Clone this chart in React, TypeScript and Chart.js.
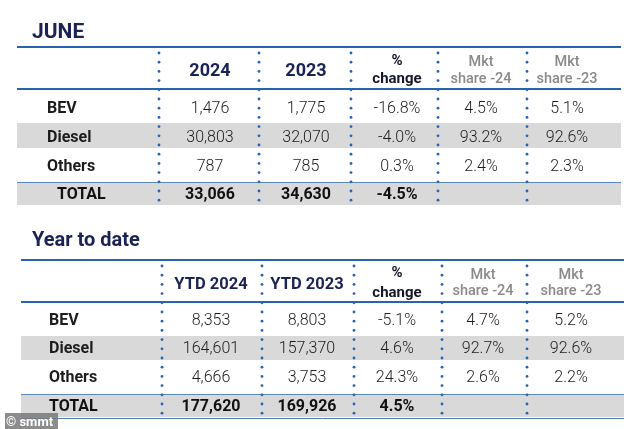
import React, { useEffect, useRef } from "react";
import { Chart, registerables } from "chart.js";

Chart.register(...registerables);

// ---------- DATA ----------
const rowLabels = ["BEV", "Diesel", "Others"];
const totalLabel = "TOTAL";

const juneTitle = "JUNE";
const juneHeaders = [["2024"], ["2023"], ["%", "change"], ["Mkt", "share -24"], ["Mkt", "share -23"]];
const june2024 = [1476, 30803, 787];
const june2023 = [1775, 32070, 785];
const juneChange = [-16.8, -4.0, 0.3];
const juneShare24 = [4.5, 93.2, 2.4];
const juneShare23 = [5.1, 92.6, 2.3];
const juneTotals = [33066, 34630];
const juneTotalChange = -4.5;

const ytdTitle = "Year to date";
const ytdHeaders = [["YTD 2024"], ["YTD 2023"], ["%", "change"], ["Mkt", "share -24"], ["Mkt", "share -23"]];
const ytd2024 = [8353, 164601, 4666];
const ytd2023 = [8803, 157370, 3753];
const ytdChange = [-5.1, 4.6, 24.3];
const ytdShare24 = [4.7, 92.7, 2.6];
const ytdShare23 = [5.2, 92.6, 2.2];
const ytdTotals = [177620, 169926];
const ytdTotalChange = 4.5;

const watermark = "© smmt";

// ---------- LAYOUT / STYLE ----------
const W = 634;
const H = 429;
const FONT = "Roboto, 'DejaVu Sans', sans-serif";
const NAVY = "#1b2254";
const BLUE = "#2a62b2";
const GRAY_BAND = "#d9d9d9";
const GRAY_TEXT = "#8a8a8a";
const TEXT = "#1c1c1c";

type Layout = {
  titleBase: number; titleSize: number;
  left: number; right: number;
  topLine: number; headLine: number; totalLine: number; bottom: number; bottomLine: boolean;
  bands: number[][];
  seps: number[]; dotTop: number; dotBottom: number;
  colX: number[];
  labelX: number; totalLabelX: number;
  headSize: number; headBase: number;
  twoBase: number[]; mktBase: number[];
  rowBase: number[];
};

const juneLayout: Layout = {
  titleBase: 38, titleSize: 21,
  left: 17, right: 621,
  topLine: 47, headLine: 89, totalLine: 182, bottom: 205, bottomLine: false,
  bands: [[123, 148], [182, 205]],
  seps: [159, 259, 351, 438, 527], dotTop: 53, dotBottom: 203,
  colX: [210, 306, 397, 481, 567],
  labelX: 47, totalLabelX: 57,
  headSize: 18, headBase: 76,
  twoBase: [65, 83], mktBase: [66, 83],
  rowBase: [113, 142, 170.5, 199],
};

const ytdLayout: Layout = {
  titleBase: 246, titleSize: 20,
  left: 21, right: 624,
  topLine: 260, headLine: 302, totalLine: 394, bottom: 418, bottomLine: true,
  bands: [[336, 360], [394, 417]],
  seps: [162, 262, 354, 442, 527], dotTop: 266, dotBottom: 416,
  colX: [211, 307, 397, 483, 571],
  labelX: 49, totalLabelX: 49,
  headSize: 16.5, headBase: 289,
  twoBase: [277, 297], mktBase: [279, 295],
  rowBase: [325, 353, 382, 411],
};

const fmtN = (v: number) => v.toLocaleString("en-US");
const fmtP = (v: number) => `${v.toFixed(1)}%`;

function drawTable(
  ctx: CanvasRenderingContext2D,
  px: (v: number) => number,
  py: (v: number) => number,
  L: Layout,
  title: string,
  headers: string[][],
  a: number[], b: number[], ch: number[], s24: number[], s23: number[],
  totals: number[], totalCh: number
) {
  // title
  ctx.fillStyle = NAVY;
  ctx.font = `700 ${L.titleSize}px ${FONT}`;
  ctx.textAlign = "left";
  ctx.textBaseline = "alphabetic";
  ctx.fillText(title, px(32), py(L.titleBase));

  // bands
  ctx.fillStyle = GRAY_BAND;
  L.bands.forEach(([t, bt]) => {
    ctx.fillRect(px(L.left), py(t), px(L.right) - px(L.left), py(bt) - py(t));
  });

  // lines
  ctx.strokeStyle = BLUE;
  ctx.lineWidth = 2;
  [L.topLine, L.headLine].forEach((y) => {
    ctx.beginPath();
    ctx.moveTo(px(L.left), py(y));
    ctx.lineTo(px(L.right), py(y));
    ctx.stroke();
  });
  ctx.strokeStyle = "#5d86b9";
  ctx.lineWidth = 1;
  ctx.beginPath();
  ctx.moveTo(px(L.left), py(L.totalLine) + 0.5);
  ctx.lineTo(px(L.right), py(L.totalLine) + 0.5);
  ctx.stroke();
  if (L.bottomLine) {
    ctx.strokeStyle = "#4f7cb6";
    ctx.beginPath();
    ctx.moveTo(px(L.left), py(L.bottom) + 0.5);
    ctx.lineTo(px(L.right), py(L.bottom) + 0.5);
    ctx.stroke();
  }

  // dotted separators
  ctx.fillStyle = "#2a62b2";
  L.seps.forEach((x) => {
    for (let y = L.dotTop; y <= L.dotBottom; y += 9.2) {
      ctx.beginPath();
      ctx.arc(px(x), py(y), 1.4, 0, Math.PI * 2);
      ctx.fill();
    }
  });

  // headers
  ctx.textAlign = "center";
  headers.forEach((h, i) => {
    const x = px(L.colX[i]);
    if (i < 2) {
      ctx.fillStyle = NAVY;
      ctx.font = `700 ${L.headSize}px ${FONT}`;
      ctx.fillText(h[0], x, py(L.headBase));
    } else if (i === 2) {
      ctx.fillStyle = "#15172a";
      ctx.font = `700 15px ${FONT}`;
      ctx.fillText(h[0], x, py(L.twoBase[0]));
      ctx.fillText(h[1], x, py(L.twoBase[1]));
    } else {
      ctx.fillStyle = GRAY_TEXT;
      ctx.font = `500 14.5px ${FONT}`;
      ctx.fillText(h[0], x, py(L.mktBase[0]));
      ctx.fillText(h[1], x, py(L.mktBase[1]));
    }
  });

  // body rows
  rowLabels.forEach((lab, r) => {
    const y = py(L.rowBase[r]);
    ctx.fillStyle = TEXT;
    ctx.textAlign = "left";
    ctx.font = `700 16px ${FONT}`;
    ctx.fillText(lab, px(L.labelX), y);
    ctx.textAlign = "center";
    ctx.font = `300 16px ${FONT}`;
    const vals = [fmtN(a[r]), fmtN(b[r]), fmtP(ch[r]), fmtP(s24[r]), fmtP(s23[r])];
    vals.forEach((v, c) => ctx.fillText(v, px(L.colX[c]), y));
  });

  // total row
  const ty = py(L.rowBase[3]);
  ctx.fillStyle = "#111";
  ctx.textAlign = "left";
  ctx.font = `700 16px ${FONT}`;
  ctx.fillText(totalLabel, px(L.totalLabelX), ty);
  ctx.textAlign = "center";
  ctx.fillText(fmtN(totals[0]), px(L.colX[0]), ty);
  ctx.fillText(fmtN(totals[1]), px(L.colX[1]), ty);
  ctx.fillText(fmtP(totalCh), px(L.colX[2]), ty);
}

const tablePlugin = {
  id: "tablePlugin",
  afterDraw(chart: any) {
    const ctx: CanvasRenderingContext2D = chart.ctx;
    const xs = chart.scales.x;
    const ys = chart.scales.y;
    const px = (v: number) => xs.getPixelForValue(v);
    const py = (v: number) => ys.getPixelForValue(v);
    ctx.save();
    drawTable(ctx, px, py, juneLayout, juneTitle, juneHeaders, june2024, june2023, juneChange, juneShare24, juneShare23, juneTotals, juneTotalChange);
    drawTable(ctx, px, py, ytdLayout, ytdTitle, ytdHeaders, ytd2024, ytd2023, ytdChange, ytdShare24, ytdShare23, ytdTotals, ytdTotalChange);

    // watermark
    ctx.fillStyle = "rgba(120,120,120,0.85)";
    ctx.fillRect(px(5), py(413), px(58) - px(5), py(429) - py(413));
    ctx.fillStyle = "#ffffff";
    ctx.font = `700 13px ${FONT}`;
    ctx.textAlign = "left";
    ctx.textBaseline = "alphabetic";
    ctx.fillText(watermark, px(6), py(426));
    ctx.restore();
  },
};

export default function App() {
  const ref = useRef<HTMLCanvasElement | null>(null);
  useEffect(() => {
    document.body.style.margin = "0";
    const canvas = ref.current;
    if (!canvas) return;
    const chart = new Chart(canvas, {
      type: "scatter",
      data: { datasets: [] },
      options: {
        animation: false,
        responsive: false,
        devicePixelRatio: 1,
        layout: { padding: 0 },
        plugins: { legend: { display: false }, tooltip: { enabled: false }, title: { display: false } },
        scales: {
          x: { type: "linear", min: 0, max: W, display: false },
          y: { type: "linear", min: 0, max: H, reverse: true, display: false },
        },
      },
      plugins: [tablePlugin],
    });
    return () => chart.destroy();
  }, []);
  return (
    <div style={{ position: "absolute", left: 0, top: 0, width: W, height: H, background: "#fff" }}>
      <canvas ref={ref} width={W} height={H} style={{ display: "block" }} />
    </div>
  );
}
